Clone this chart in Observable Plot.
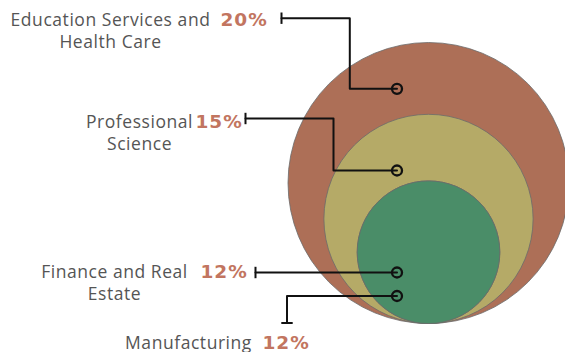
<!DOCTYPE html>
<html>
<head>
<meta charset="utf-8">
<script src="https://cdn.jsdelivr.net/npm/d3@7"></script>
<script src="https://cdn.jsdelivr.net/npm/@observablehq/plot@0.6"></script>
<style>
  html, body { margin: 0; padding: 0; background: #fff; }
  #chart svg { display: block; }
  text.pct { letter-spacing: 1px; }
  text.names { letter-spacing: 0.55px; }
</style>
</head>
<body>
<div id="chart"></div>
<script>
// ---- data ----
const sectors = ["Education Services and Health Care", "Professional Science", "Finance and Real Estate", "Manufacturing"];
const shares = [20, 15, 12, 12];
const labelLines = [["Education Services and", "Health Care"], ["Professional", "Science"], ["Finance and Real", "Estate"], ["Manufacturing"]];
const shareLabels = ["20%", "15%", "12%", "12%"];

// ---- layout / style config ----
const W = 565, H = 352;
const colors = ["#ad6f57", "#b5aa67", "#4a8d68", "#4a8d68"];
const centerX = 428, baseY = 323;
const rScale = Plot.scale({r: {type: "linear", domain: [0, 12, 15, 20], range: [0, 71.3, 104.6, 140.5]}});
const dotX = 396.5;
const dotY = [88.3, 170, 272, 295.5];
const leaderPaths = [
  [[281, 17.7], [349.3, 17.7], [349.3, 88.3], [dotX, 88.3]],
  [[245, 118], [333, 118], [333, 170], [dotX, 170]],
  [[255, 272], [dotX, 272]],
  [[286.5, 322.5], [286.5, 295.5], [dotX, 295.5]]
];
const ticks = [
  [[281, 12], [281, 23.4]],
  [[245, 112.3], [245, 123.7]],
  [[255, 266.3], [255, 277.7]],
  [[280.8, 322.5], [292.2, 322.5]]
];
const labelCenter = [110, 139, 114, 188];
const labelBase = [25, 127.3, 277.3, 348];
const lineGap = 22;
const pctStart = [220, 195, 200, 262];

const circles = sectors.map((s, i) => ({sector: s, value: shares[i], color: colors[i]}));
const leaderRows = leaderPaths.flatMap((p, i) => p.map(([x, y]) => ({sector: sectors[i], x, y})));
const tickRows = ticks.map((t, i) => ({sector: sectors[i], x1: t[0][0], y1: t[0][1], x2: t[1][0], y2: t[1][1]}));
const nameRows = labelLines.flatMap((lines, i) => lines.map((t, j) => ({text: t, x: labelCenter[i], y: labelBase[i] + j * lineGap})));
const pctRows = shareLabels.map((t, i) => ({text: t, x: pctStart[i], y: labelBase[i]}));
const dotRows = sectors.map((s, i) => ({sector: s, x: dotX, y: dotY[i]}));

const chart = Plot.plot({
  width: W,
  height: H,
  margin: 0,
  x: {domain: [0, W], range: [0, W], axis: null},
  y: {domain: [0, H], range: [0, H], axis: null},
  r: {type: "linear", domain: [0, 12, 15, 20], range: [0, 71.3, 104.6, 140.5]},
  marks: [
    Plot.dot(circles, {
      x: () => centerX,
      y: d => baseY - rScale.apply(d.value),
      r: "value",
      fill: d => d.color,
      stroke: "#6b6b6b",
      strokeWidth: 0.8
    }),
    Plot.line(leaderRows, {x: "x", y: "y", z: "sector", stroke: "#111", strokeWidth: 2, curve: "linear"}),
    Plot.link(tickRows, {x1: "x1", y1: "y1", x2: "x2", y2: "y2", stroke: "#111", strokeWidth: 2}),
    Plot.dot(dotRows, {x: "x", y: "y", r: 5, stroke: "#111", strokeWidth: 2.3, fill: "none"}),
    Plot.text(nameRows, {x: "x", y: "y", text: "text", textAnchor: "middle", lineAnchor: "bottom",
      fontSize: 17.5, fill: "#555", fontFamily: "Open Sans"}),
    Plot.text(pctRows, {x: "x", y: "y", text: "text", textAnchor: "start", lineAnchor: "bottom",
      fontSize: 18.5, fontWeight: "bold", fill: "#c27560", fontFamily: "DejaVu Sans"})
  ]
});
// apply letter spacing classes to the two text layers (names first, then percentages)
const textGroups = chart.querySelectorAll('g[aria-label="text"]');
if (textGroups[0]) textGroups[0].querySelectorAll("text").forEach(t => t.classList.add("names"));
if (textGroups[1]) textGroups[1].querySelectorAll("text").forEach(t => t.classList.add("pct"));
document.getElementById("chart").appendChild(chart);
</script>
</body>
</html>
